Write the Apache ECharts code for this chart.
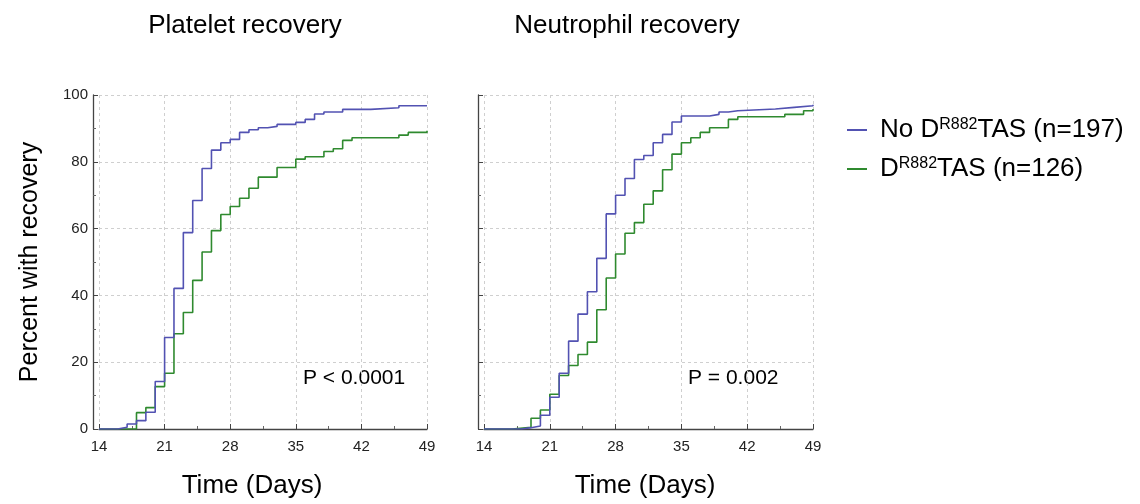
<!DOCTYPE html>
<html>
<head>
<meta charset="utf-8">
<script src="https://cdn.jsdelivr.net/npm/echarts@6/dist/echarts.min.js"></script>
<style>html,body{margin:0;padding:0;background:#fff}#c{width:1140px;height:504px}</style>
</head>
<body>
<div id="c"></div>
<script>
// ---- data ----
const panelTitles = ['Platelet recovery', 'Neutrophil recovery'];
const pValues = ['P < 0.0001', 'P = 0.002'];
const xTicks = [14, 21, 28, 35, 42, 49];
const yTicks = [0, 20, 40, 60, 80, 100];
const legendParts = [['No D', 'R882', 'TAS (n=197)'], ['D', 'R882', 'TAS (n=126)']];

const plateletNoDays = [14,16,17,18,19,20,21,22,23,24,25,26,27,28,29,30,31,32,33,35,36,37,38,40,43,46,49];
const plateletNoVals = [0,0.5,1.5,2.5,5,14.2,27.4,42.1,58.8,68.4,78,83.5,85.7,86.7,88.8,89.6,90.2,90.6,91.2,91.8,92.7,94.3,94.9,95.7,96.2,96.8,96.8];
const plateletYesDays = [14,18,19,20,21,22,23,24,25,26,27,28,29,30,31,33,35,36,38,39,40,41,46,47,49];
const plateletYesVals = [0,4.9,6.4,12.7,16.7,28.5,34.9,44.5,53,59.4,64.2,66.6,69.1,72.1,75.4,78.3,80.8,81.5,83.1,83.9,86.4,87.2,88,88.8,89.3];

const neutroNoDays = [14,18,19,20,21,22,23,24,25,26,27,28,29,30,31,32,33,34,35,38,39,40,41,45,47,49];
const neutroNoVals = [0,0.4,0.9,4.1,9.5,16.7,26.3,34.4,41.1,51.1,64.4,70,75,80.7,81.9,85.7,88.2,91.9,93.7,94.2,94.9,95.3,95.8,96.3,96.8,97.1];
const neutroYesDays = [14,17,19,20,21,22,23,24,25,26,27,28,29,30,31,32,33,34,35,36,37,38,40,41,46,48,49];
const neutroYesVals = [0,0.5,3.2,5.7,10.4,16,19,22.3,26,35.7,45.2,52.4,58.6,61.8,67.3,71.3,77.6,82.3,85.7,87.2,88.8,90.2,92.7,93.5,94.2,95.3,95.8];

const colors = ['#5252b2', '#2f8a2f'];
const FONT = '"Liberation Sans", Arial, Helvetica, sans-serif';

const zip = (d, v) => d.map((x, i) => [x, v[i]]);
const names = legendParts.map(p => p.join(''));

const grids = [
  { left: 99, top: 95, width: 328, height: 334 },
  { left: 484, top: 95, width: 329, height: 334 }
];
const xNamePad = [[0, 22, 0, 0], [0, 7, 0, 0]];

function xAx(i) {
  return {
    type: 'value', gridIndex: i, min: xTicks[0], max: xTicks[xTicks.length - 1], interval: 7,
    offset: 4,
    name: 'Time (Days)', nameLocation: 'middle', nameGap: 40,
    nameTextStyle: { fontFamily: FONT, fontSize: 26, color: '#000', padding: xNamePad[i] },
    axisLine: { lineStyle: { color: '#444', width: 1.3 } },
    axisTick: { inside: true, length: 5, lineStyle: { color: '#444' } },
    minorTick: { show: true, splitNumber: 2, length: 3, lineStyle: { color: '#666' } },
    axisLabel: { fontFamily: FONT, fontSize: 15, color: '#222', margin: 6 },
    splitLine: { show: true, lineStyle: { color: '#cfcfcf', type: [3, 3], width: 1 } }
  };
}
function yAx(i) {
  return {
    type: 'value', gridIndex: i, min: yTicks[0], max: yTicks[yTicks.length - 1], interval: 20,
    offset: 6,
    name: i === 0 ? 'Percent with recovery' : '', nameLocation: 'middle', nameGap: 50, nameRotate: 90,
    nameTextStyle: { fontFamily: FONT, fontSize: 25, color: '#000' },
    axisLine: { show: true, lineStyle: { color: '#444', width: 1.3 } },
    axisTick: { show: true, inside: true, length: 5, lineStyle: { color: '#444' } },
    minorTick: { show: true, splitNumber: 2, length: 3, lineStyle: { color: '#666' } },
    axisLabel: { show: i === 0, fontFamily: FONT, fontSize: 15, color: '#222', margin: 5 },
    splitLine: { show: true, lineStyle: { color: '#cfcfcf', type: [3, 3], width: 1 } }
  };
}
function ser(name, data, color, i) {
  return {
    type: 'line', name, xAxisIndex: i, yAxisIndex: i, step: 'end', data,
    showSymbol: false, symbol: 'none', color,
    lineStyle: { color, width: 1.6 }, animation: false
  };
}

const chart = echarts.init(document.getElementById('c'), null, { renderer: 'canvas' });
chart.setOption({
  backgroundColor: '#fff',
  animation: false,
  title: [
    { text: panelTitles[0], left: 240, top: 8, textAlign: 'center', textStyle: { fontFamily: FONT, fontSize: 26, fontWeight: 'normal', color: '#000' } },
    { text: panelTitles[1], left: 622, top: 8, textAlign: 'center', textStyle: { fontFamily: FONT, fontSize: 26, fontWeight: 'normal', color: '#000' } }
  ],
  grid: grids,
  xAxis: [xAx(0), xAx(1)],
  yAxis: [yAx(0), yAx(1)],
  legend: {
    orient: 'vertical', left: 842, top: 112, itemGap: 13,
    icon: 'rect', itemWidth: 20, itemHeight: 2,
    data: names,
    formatter: n => {
      const p = legendParts[names.indexOf(n)];
      return '{p|' + p[0] + '}{s|' + p[1] + '}{m|' + p[2] + '}';
    },
    textStyle: {
      fontFamily: FONT, color: '#000',
      rich: {
        p: { fontFamily: FONT, fontSize: 26, lineHeight: 26, padding: [0, 0, 0, 8], color: '#000' },
        m: { fontFamily: FONT, fontSize: 26, lineHeight: 26, color: '#000' },
        s: { fontFamily: FONT, fontSize: 16, lineHeight: 8, verticalAlign: 'top', color: '#000' }
      }
    }
  },
  graphic: [
    { type: 'text', left: 303, top: 368, style: { text: pValues[0], font: '21px ' + FONT, fill: '#000' } },
    { type: 'text', left: 688, top: 368, style: { text: pValues[1], font: '21px ' + FONT, fill: '#000' } }
  ],
  series: [
    ser(names[1], zip(plateletYesDays, plateletYesVals), colors[1], 0),
    ser(names[0], zip(plateletNoDays, plateletNoVals), colors[0], 0),
    ser(names[1], zip(neutroYesDays, neutroYesVals), colors[1], 1),
    ser(names[0], zip(neutroNoDays, neutroNoVals), colors[0], 1)
  ]
});
</script>
</body>
</html>
